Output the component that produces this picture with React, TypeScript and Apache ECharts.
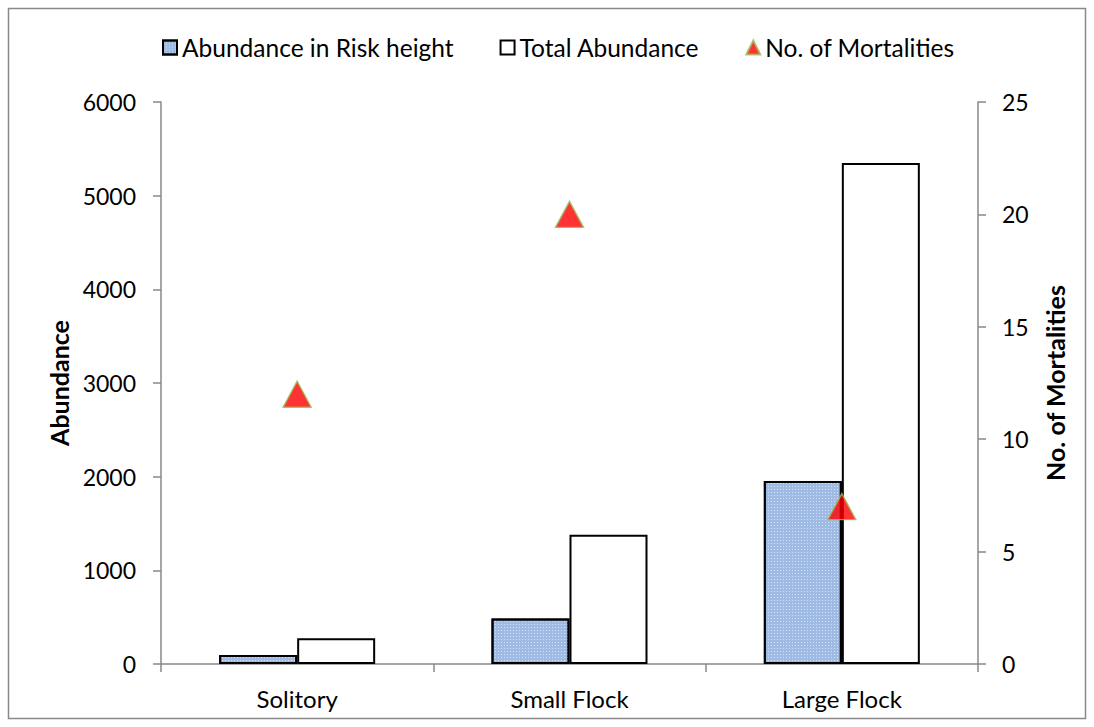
import React, { useEffect, useRef } from "react";
import * as echarts from "echarts";

const categories = ["Solitory", "Small Flock", "Large Flock"];
const riskAbundance = [95, 485, 1955];
const totalAbundance = [275, 1380, 5350];
const mortalities = [12, 20, 7];
const leftTicks = [0, 6000, 1000];
const rightTicks = [0, 25, 5];

const FONT = "Lato, 'Open Sans', sans-serif";

export default function App() {
  const ref = useRef<HTMLDivElement>(null);
  useEffect(() => {
    if (!ref.current) return;
    const chart = echarts.init(ref.current, undefined, { renderer: "svg" });
    chart.setOption({
      animation: false,
      backgroundColor: "#ffffff",
      textStyle: { fontFamily: FONT, color: "#000" },
      graphic: [
        {
          type: "rect",
          shape: { x: 8.5, y: 8.5, width: 1077, height: 710 },
          style: { fill: "none", stroke: "#898989", lineWidth: 1.5 },
          silent: true,
        },
      ],
      legend: {
        top: 30,
        left: 157,
        itemWidth: 14,
        itemHeight: 14,
        itemGap: 46,
        textStyle: { fontSize: 24.5, fontFamily: FONT, color: "#000" },
        data: [
          { name: "Abundance in Risk height", icon: "rect" },
          { name: "Total Abundance", icon: "rect" },
          { name: "No. of Mortalities", icon: "triangle" },
        ],
      },
      grid: { left: 161, right: 116, top: 102, bottom: 63 },
      xAxis: {
        type: "category",
        data: categories,
        axisLine: { lineStyle: { color: "#898989", width: 1.5 } },
        axisTick: { show: true, length: 8, alignWithLabel: false, lineStyle: { color: "#898989", width: 1.5 } },
        axisLabel: { fontSize: 24, color: "#000", margin: 22, fontFamily: FONT },
      },
      yAxis: [
        {
          type: "value",
          min: leftTicks[0],
          max: leftTicks[1],
          interval: leftTicks[2],
          name: "Abundance",
          nameLocation: "middle",
          nameGap: 90,
          nameRotate: 90,
          nameTextStyle: { fontSize: 25, fontWeight: "bold", color: "#000", fontFamily: FONT },
          axisLine: { show: true, lineStyle: { color: "#898989", width: 1.5 } },
          axisTick: { show: true, length: 8, lineStyle: { color: "#898989", width: 1.5 } },
          axisLabel: { fontSize: 23, color: "#000", margin: 25, fontFamily: FONT, formatter: (v: number) => String(v) },
          splitLine: { show: false },
        },
        {
          type: "value",
          min: rightTicks[0],
          max: rightTicks[1],
          interval: rightTicks[2],
          position: "right",
          name: "No. of Mortalities",
          nameLocation: "middle",
          nameGap: 64,
          nameRotate: 90,
          nameTextStyle: { fontSize: 25, fontWeight: "bold", color: "#000", fontFamily: FONT },
          axisLine: { show: true, lineStyle: { color: "#898989", width: 1.5 } },
          axisTick: { show: true, length: 8, lineStyle: { color: "#898989", width: 1.5 } },
          axisLabel: { fontSize: 23, color: "#000", margin: 24, fontFamily: FONT, formatter: (v: number) => String(v) },
          splitLine: { show: false },
        },
      ],
      series: [
        {
          name: "Abundance in Risk height",
          type: "bar",
          data: riskAbundance,
          barWidth: 78,
          barGap: "0%",
          itemStyle: {
            color: "#9fbbe4",
            borderColor: "#000",
            borderWidth: 2,
            decal: {
              symbol: "rect",
              symbolSize: 1,
              color: "rgba(255,255,255,0.55)",
              dashArrayX: [1, 2],
              dashArrayY: [1, 2],
              rotation: 0,
            },
          },
        },
        {
          name: "Total Abundance",
          type: "bar",
          data: totalAbundance,
          barWidth: 78,
          barGap: "0%",
          itemStyle: { color: "#ffffff", borderColor: "#000", borderWidth: 2 },
        },
        {
          name: "No. of Mortalities",
          type: "scatter",
          yAxisIndex: 1,
          data: mortalities,
          symbol: "triangle",
          symbolSize: [28, 26],
          itemStyle: { color: "#ff0000", borderColor: "#9bbb59", borderWidth: 1.5 },
          z: 5,
        },
      ],
    });
    return () => chart.dispose();
  }, []);
  return (
    <div
      ref={ref}
      style={{ position: "absolute", left: 0, top: 0, width: 1094, height: 727 }}
    />
  );
}
